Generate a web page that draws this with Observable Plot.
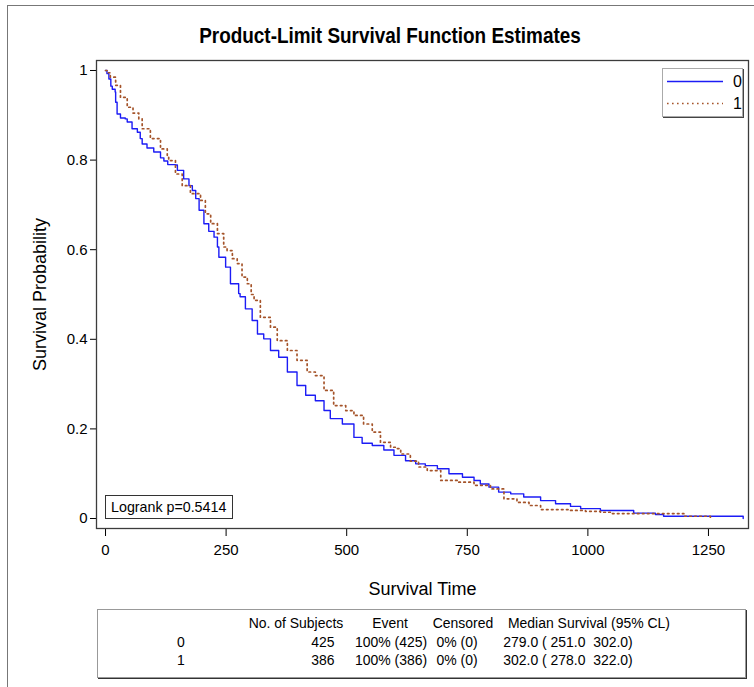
<!DOCTYPE html>
<html>
<head>
<meta charset="utf-8">
<script src="https://cdn.jsdelivr.net/npm/d3@7"></script>
<script src="https://cdn.jsdelivr.net/npm/@observablehq/plot@0.6"></script>
<style>
  body { margin: 0; background: #fff; }
  #page { position: relative; width: 754px; height: 687px; overflow: hidden; background: #fff;
          font-family: "Liberation Sans", Arial, sans-serif; color: #000; }
  #border { position: absolute; left: 7px; top: 5px; width: 800px; height: 800px;
            border-left: 1px solid #777; border-top: 1px solid #777; }
  #title { position: absolute; left: 0; width: 780px; top: 23px; text-align: center;
           font-weight: bold; font-size: 22px; transform: scaleX(0.86); transform-origin: 390px 0; }
  #chart { position: absolute; left: 0; top: 50px; }
  #legend { position: absolute; left: 662px; top: 68px; width: 79px; height: 47px; background: #fff;
            border: 1px solid #aaa; box-shadow: 1px 1px 0 #444; }
  #logrank { position: absolute; left: 105px; top: 495px; width: 126px; height: 22px; background: #fff;
             border: 1px solid #333; font-size: 15px; line-height: 22px; text-align: center; }
  #logrank span { display: inline-block; transform: scaleX(0.95); }
  #table { position: absolute; left: 97px; top: 609px; width: 647px; height: 67px; background: #fff;
           border: 1px solid #999; box-shadow: 1px 1px 0 #333; }
  .cell { position: absolute; white-space: pre; font-size: 15.5px; transform: translateX(-50%) scaleX(0.9); line-height: 16px; }
</style>
</head>
<body>
<div id="page">
  <div id="border"></div>
  <div id="title"></div>
  <div id="chart"></div>
  <div id="legend"></div>
  <div id="logrank"><span></span></div>
  <div id="table"></div>
</div>
<script>
// ---------- data ----------
const titleText = "Product-Limit Survival Function Estimates";
const xLabel = "Survival Time";
const yLabel = "Survival Probability";
const xTicks = [0, 250, 500, 750, 1000, 1250];
const yTicks = [0, 0.2, 0.4, 0.6, 0.8, 1];
const groups = ["0", "1"];

// Group 0 Kaplan-Meier estimate (time, survival)
const time0 = [0, 3, 7, 11, 14, 20, 21, 24, 31, 41, 45, 55, 66, 72, 76, 86, 100, 114, 121, 129, 145, 149, 162, 173, 180, 187, 194, 204, 214, 225, 232, 235, 249, 259, 276, 279, 290, 304, 315, 328, 342, 359, 377, 397, 415, 435, 453, 466, 491, 515, 532, 553, 577, 598, 622, 643, 663, 688, 712, 740, 764, 777, 795, 815, 840, 867, 902, 933, 964, 985, 1026, 1095, 1140, 1157, 1322];
const surv0 = [1.0, 0.993, 0.981, 0.965, 0.958, 0.952, 0.929, 0.903, 0.894, 0.892, 0.885, 0.870, 0.862, 0.848, 0.836, 0.827, 0.818, 0.805, 0.798, 0.790, 0.789, 0.777, 0.758, 0.743, 0.732, 0.714, 0.688, 0.658, 0.641, 0.628, 0.606, 0.583, 0.561, 0.524, 0.502, 0.495, 0.468, 0.442, 0.412, 0.401, 0.375, 0.360, 0.327, 0.297, 0.275, 0.263, 0.241, 0.223, 0.211, 0.181, 0.168, 0.163, 0.153, 0.141, 0.129, 0.122, 0.118, 0.111, 0.100, 0.092, 0.085, 0.077, 0.070, 0.059, 0.055, 0.048, 0.040, 0.033, 0.027, 0.022, 0.018, 0.012, 0.009, 0.005, 0.0];

// Group 1 Kaplan-Meier estimate (time, survival)
const time1 = [0, 4, 10, 21, 31, 45, 57, 69, 76, 93, 114, 128, 131, 145, 159, 176, 197, 207, 218, 232, 245, 252, 263, 273, 283, 294, 302, 308, 321, 342, 356, 377, 397, 418, 435, 453, 473, 498, 515, 535, 553, 570, 591, 605, 612, 632, 649, 667, 695, 732, 764, 798, 826, 853, 878, 902, 964, 995, 1026, 1047, 1199, 1254];
const surv1 = [1.0, 0.995, 0.985, 0.967, 0.940, 0.918, 0.905, 0.892, 0.870, 0.848, 0.825, 0.810, 0.799, 0.769, 0.743, 0.725, 0.710, 0.680, 0.658, 0.636, 0.606, 0.598, 0.580, 0.569, 0.539, 0.524, 0.500, 0.487, 0.449, 0.427, 0.397, 0.375, 0.353, 0.327, 0.319, 0.286, 0.252, 0.241, 0.230, 0.211, 0.193, 0.170, 0.159, 0.156, 0.144, 0.128, 0.115, 0.107, 0.085, 0.081, 0.074, 0.066, 0.044, 0.036, 0.029, 0.020, 0.018, 0.016, 0.014, 0.011, 0.005, 0.0];

const logrankP = "0.5414";

// Summary table
const tableHeaders = ["No. of Subjects", "Event", "Censored", "Median Survival (95% CL)"];
const nSubjects = [425, 386];
const nEvents = [425, 386];
const nCensored = [0, 0];
const medians = [279.0, 302.0];
const lowerCL = [251.0, 278.0];
const upperCL = [302.0, 322.0];

// ---------- styles ----------
const colors = ["#1c1cf5", "#a5542a"];
const dashes = [null, "1.6,3.4"];

// ---------- chart ----------
const d0 = time0.map((t, i) => ({t, s: surv0[i]}));
const d1 = time1.map((t, i) => ({t, s: surv1[i]}));

const fontStack = '"Liberation Sans", Arial, sans-serif';

const chart = Plot.plot({
  width: 754,
  height: 560,
  marginLeft: 96,
  marginRight: 6,
  marginTop: 10,
  marginBottom: 82,
  style: { fontFamily: fontStack, fontSize: "15px", color: "#000", background: "transparent", overflow: "visible" },
  x: { domain: [-18.7, 1333], ticks: xTicks, tickSize: 8, tickPadding: 8, tickFormat: d => String(d), label: null },
  y: { domain: [-0.0223, 1.0223], ticks: yTicks, tickSize: 6, tickPadding: 3, tickFormat: d => String(d), label: null },
  marks: [
    Plot.frame({ stroke: "#3c3c3c", strokeWidth: 1.3 }),
    Plot.line(d0, { x: "t", y: "s", curve: "step-after", stroke: colors[0], strokeWidth: 1.4 }),
    Plot.line(d1, { x: "t", y: "s", curve: "step-after", stroke: colors[1], strokeWidth: 1.7, strokeDasharray: dashes[1] }),
    Plot.text([xLabel], { frameAnchor: "bottom", dy: 66, fontSize: 18, fill: "#000" }),
    Plot.text([yLabel], { frameAnchor: "left", dx: -56, rotate: -90, textAnchor: "middle", fontSize: 18, fill: "#000" })
  ]
});
document.getElementById("chart").appendChild(chart);

document.getElementById("title").textContent = titleText;
document.querySelector("#logrank span").textContent = "Logrank p=" + logrankP;

// legend
const legend = document.getElementById("legend");
const ns = "http://www.w3.org/2000/svg";
const lsvg = document.createElementNS(ns, "svg");
lsvg.setAttribute("width", 79); lsvg.setAttribute("height", 47);
lsvg.style.fontFamily = fontStack;
groups.forEach((g, i) => {
  const y = 12.5 + i * 22;
  const ln = document.createElementNS(ns, "line");
  ln.setAttribute("x1", 4); ln.setAttribute("x2", 60); ln.setAttribute("y1", y); ln.setAttribute("y2", y);
  ln.setAttribute("stroke", colors[i]); ln.setAttribute("stroke-width", i ? 1.7 : 1.4);
  if (dashes[i]) ln.setAttribute("stroke-dasharray", dashes[i]);
  lsvg.appendChild(ln);
  const tx = document.createElementNS(ns, "text");
  tx.setAttribute("x", 70); tx.setAttribute("y", y + 5.5); tx.setAttribute("font-size", 16);
  tx.textContent = g;
  lsvg.appendChild(tx);
});
legend.appendChild(lsvg);

// table
const table = document.getElementById("table");
function cell(text, cx, top) {
  const d = document.createElement("div");
  d.className = "cell";
  d.style.left = (cx - 97) + "px";
  d.style.top = top + "px";
  d.textContent = text;
  table.appendChild(d);
}
const headerCenters = [295, 389, 462, 588];
tableHeaders.forEach((h, i) => cell(h, headerCenters[i], 5));
groups.forEach((g, i) => {
  const top = 24 + i * 18;
  cell(g, 180, top);
  cell(String(nSubjects[i]), 322, top);
  cell(Math.round(100 * nEvents[i] / nSubjects[i]) + "% (" + nEvents[i] + ")", 390, top);
  cell(Math.round(100 * nCensored[i] / nSubjects[i]) + "% (" + nCensored[i] + ")", 456, top);
  cell(medians[i].toFixed(1) + " ( " + lowerCL[i].toFixed(1) + "  " + upperCL[i].toFixed(1) + ")", 567, top);
});
</script>
</body>
</html>
